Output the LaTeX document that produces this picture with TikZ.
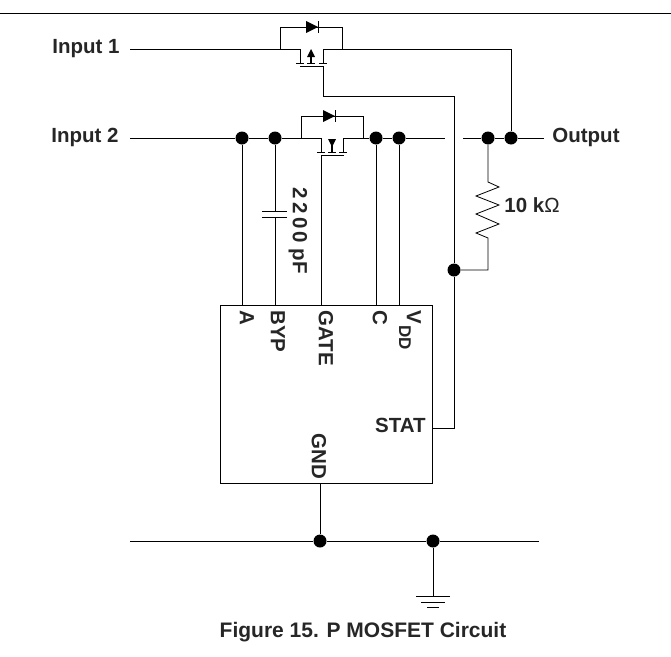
\documentclass[tikz,border=0pt]{standalone}
\usepackage{fontspec}
\setmainfont{Liberation Sans}
\begin{document}
\begin{tikzpicture}[x=1pt, y=-1pt, line width=0.8pt,
        dot/.style = {circle, fill=black, inner sep=0pt, minimum size=13pt},
        lbl/.style = {font=\bfseries\fontsize{20.5pt}{22pt}\selectfont, text=black!85, inner sep=0pt},
        pin/.style = {lbl, rotate=-90, anchor=west}]
        \useasboundingbox (0,0) rectangle (671,656);
        \draw (0,13) -- (671,13);

        % junctions
        \node[dot] (a) at (242,138) {};
        \node[dot] (byp) at (275,138) {};
        \node[dot] (c) at (376,138) {};
        \node[dot] (vdd) at (399,138) {};
        \node[dot] (r) at (488,138) {};
        \node[dot] (out) at (511,138) {};
        \node[dot] (st) at (454,270) {};
        \node[dot] (gnd) at (320,541) {};
        \node[dot] (earth) at (433,541) {};

        % ic body
        \node[draw, minimum width=212pt, minimum height=178pt, inner sep=0pt, anchor=north west] (ic) at (220,305) {};

        % labels
        \node[lbl, anchor=west] (in1) at (52,49) {Input 1};
        \node[lbl, anchor=west] (in2) at (51,137) {Input 2};
        \node[lbl, anchor=west] (outl) at (552,137) {Output};
        \node[lbl, anchor=west] (rl) at (504,205) {10 k\textmd{Ω}};
        \node[lbl, rotate=-90, anchor=west] (capl) at (298,187) {2\,2\,0\,0 pF};
        \node[pin] (pa) at (247,310) {A};
        \node[pin] (pb) at (278,310) {BYP};
        \node[pin] (pg) at (326,310) {GATE};
        \node[pin] (pc) at (380,310) {C};
        \node[pin] (pv) at (414,310) {V};
        \node[pin, font=\bfseries\fontsize{17pt}{18pt}\selectfont] (pd) at (405,325) {DD};
        \node[lbl, anchor=east] (stl) at (426,425) {STAT};
        \node[pin] (pgnd) at (319,433) {GND};
        \node[lbl, font=\bfseries\fontsize{21pt}{23pt}\selectfont] (fig) at (363,632) {Figure 15. P MOSFET Circuit};

        % input 1 and its transistor
        \coordinate (q1d) at (300,49);
        \coordinate (q1s) at (323,49);
        \draw (130,49) -- (q1d) -- (300,63);
        \draw (280,49) -- (280,27) -- (342,27) -- (342,49);
        \draw (q1s) -- (323,63);
        \draw (q1s) -- (511,49) -- (out);
        \draw (296,63) -- (304,63) (319,63) -- (327,63) (307,63) -- (315,63);
        \draw[line width=1.2pt] (311,63) -- (311,54);
        \fill (311,49) -- (315,57) -- (307,57) -- cycle;
        \draw (300,66) -- (323,66);
        \draw (323,66) -- (323,96) -- (454,96) -- (st);
        \fill (306,21) -- (318,27) -- (306,33) -- cycle;
        \draw[line width=1pt] (318,21) -- (318,33);

        % input 2 and its transistor
        \coordinate (q2d) at (321,138);
        \coordinate (q2s) at (343,138);
        \draw (130,138) -- (a) -- (byp) -- (q2d) -- (321,152);
        \draw (301,138) -- (301,116) -- (363,116) -- (363,138);
        \draw (q2s) -- (343,152);
        \draw (q2s) -- (c) -- (vdd) -- (445,138);
        \draw (463,138) -- (r) -- (out) -- (544,138);
        \draw (317,152) -- (325,152) (339,152) -- (347,152) (328,152) -- (336,152);
        \draw[line width=1.2pt] (332,152) -- (332,144);
        \fill (332,147) -- (328,139) -- (336,139) -- cycle;
        \draw (321,155) -- (344,155);
        \draw (321,155) -- (321,305);
        \fill (323,110) -- (335,116) -- (323,122) -- cycle;
        \draw[line width=1pt] (335,110) -- (335,122);

        % pins
        \draw (a) -- (242,305);
        \draw (c) -- (376,305);
        \draw (vdd) -- (399,305);
        \draw (byp) -- (275,211);
        \draw (275,217) -- (275,305);
        \draw (262,211) -- (287,211);
        \draw (262,217) -- (287,217);

        % pull up and status
        \draw (r) -- (488,182) -- (499,187) -- (476,196) -- (499,205) -- (476,214) -- (499,224) -- (476,233) -- (488,238) -- (488,270) -- (st);
        \draw (st) -- (454,428) -- (432,428);

        % ground
        \draw (320,483) -- (gnd);
        \draw (130,541) -- (gnd) -- (earth) -- (539,541);
        \draw (earth) -- (433,596);
        \draw (416,596) -- (450,596);
        \draw (421,602) -- (445,602);
        \draw (427,607) -- (439,607);
    \end{tikzpicture}
\end{document}
